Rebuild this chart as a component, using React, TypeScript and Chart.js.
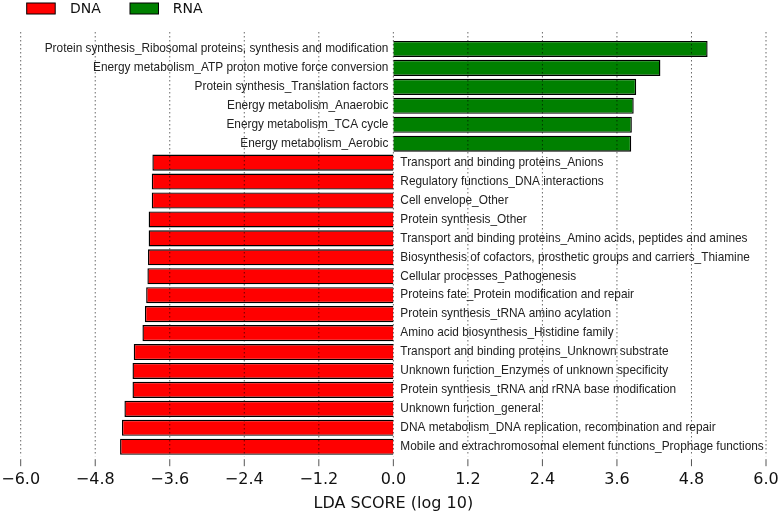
import React, { useEffect, useRef } from 'react';
import { Chart, registerables } from 'chart.js';

Chart.register(...registerables);

const categories: string[] = [
  'Protein synthesis_Ribosomal proteins, synthesis and modification',
  'Energy metabolism_ATP proton motive force conversion',
  'Protein synthesis_Translation factors',
  'Energy metabolism_Anaerobic',
  'Energy metabolism_TCA cycle',
  'Energy metabolism_Aerobic',
  'Transport and binding proteins_Anions',
  'Regulatory functions_DNA interactions',
  'Cell envelope_Other',
  'Protein synthesis_Other',
  'Transport and binding proteins_Amino acids, peptides and amines',
  'Biosynthesis of cofactors, prosthetic groups and carriers_Thiamine',
  'Cellular processes_Pathogenesis',
  'Proteins fate_Protein modification and repair',
  'Protein synthesis_tRNA amino acylation',
  'Amino acid biosynthesis_Histidine family',
  'Transport and binding proteins_Unknown substrate',
  'Unknown function_Enzymes of unknown specificity',
  'Protein synthesis_tRNA and rRNA base modification',
  'Unknown function_general',
  'DNA metabolism_DNA replication, recombination and repair',
  'Mobile and extrachromosomal element functions_Prophage functions',
];

const rnaScores: (number | null)[] = [
  5.06, 4.30, 3.91, 3.87, 3.84, 3.83,
  null, null, null, null, null, null, null, null, null, null, null, null, null, null, null, null,
];

const dnaScores: (number | null)[] = [
  null, null, null, null, null, null,
  -3.88, -3.89, -3.89, -3.94, -3.94, -3.95, -3.96, -3.98, -4.0, -4.04,
  -4.18, -4.2, -4.2, -4.33, -4.37, -4.4,
];

const xTicks: number[] = [-6, -4.8, -3.6, -2.4, -1.2, 0, 1.2, 2.4, 3.6, 4.8, 6];

const groupNames = ['DNA', 'RNA'];
const groupColors = ['#ff0000', '#008000'];

const fmt = (v: number) => {
  const s = Math.abs(v).toFixed(1);
  return (v < -1e-9 ? '\u2212' : '') + s;
};

const overlayPlugin = {
  id: 'ldaOverlay',
  afterDatasetsDraw(chart: any) {
    const { ctx, chartArea } = chart;
    const x = chart.scales.x;
    const y = chart.scales.y;
    ctx.save();
    // dotted grid lines on top of bars
    ctx.strokeStyle = 'rgba(0,0,0,0.75)';
    ctx.lineWidth = 0.8;
    ctx.setLineDash([1.5, 2.5]);
    xTicks.forEach((v) => {
      const px = x.getPixelForValue(v);
      ctx.beginPath();
      ctx.moveTo(px, chartArea.top - 7.5);
      ctx.lineTo(px, chartArea.bottom);
      ctx.stroke();
    });
    // tick marks
    ctx.setLineDash([]);
    ctx.strokeStyle = '#555';
    ctx.lineWidth = 1;
    xTicks.forEach((v) => {
      const px = x.getPixelForValue(v);
      ctx.beginPath();
      ctx.moveTo(px, chartArea.bottom + 3);
      ctx.lineTo(px, chartArea.bottom + 10);
      ctx.stroke();
    });
    // category labels next to zero
    const x0 = x.getPixelForValue(0);
    ctx.font = '11.85px "Liberation Sans", Arial, sans-serif';
    ctx.fillStyle = '#222';
    ctx.textBaseline = 'middle';
    categories.forEach((c, i) => {
      const py = y.getPixelForValue(i);
      const v = rnaScores[i] != null ? (rnaScores[i] as number) : (dnaScores[i] as number);
      if (v >= 0) {
        ctx.textAlign = 'right';
        ctx.fillText(c, x0 - 5, py);
      } else {
        ctx.textAlign = 'left';
        ctx.fillText(c, x0 + 7, py);
      }
    });
    // legend
    const legendItems = [
      { bx: 26.7, tx: 70 },
      { bx: 130, tx: 172.7 },
    ];
    ctx.font = '14px "DejaVu Sans", sans-serif';
    ctx.textAlign = 'left';
    ctx.textBaseline = 'middle';
    legendItems.forEach((it, k) => {
      ctx.fillStyle = groupColors[k];
      ctx.fillRect(it.bx, 3, 28.5, 11);
      ctx.strokeStyle = '#000';
      ctx.lineWidth = 1;
      ctx.strokeRect(it.bx, 3, 28.5, 11);
      ctx.fillStyle = '#111';
      ctx.fillText(groupNames[k], it.tx, 9);
    });
    ctx.restore();
  },
};

export default function App() {
  const ref = useRef<HTMLCanvasElement | null>(null);
  useEffect(() => {
    if (!ref.current) return;
    const chart = new Chart(ref.current, {
      type: 'bar',
      data: {
        labels: categories,
        datasets: [
          {
            label: groupNames[0],
            data: dnaScores as any,
            backgroundColor: groupColors[0],
            borderColor: '#000',
            borderWidth: 1.4,
            barPercentage: 0.85,
            categoryPercentage: 1,
            grouped: false,
          },
          {
            label: groupNames[1],
            data: rnaScores as any,
            backgroundColor: groupColors[1],
            borderColor: '#000',
            borderWidth: 1.4,
            barPercentage: 0.85,
            categoryPercentage: 1,
            grouped: false,
          },
        ],
      },
      options: {
        indexAxis: 'y',
        animation: false,
        responsive: true,
        maintainAspectRatio: false,
        layout: { padding: { left: 20.7, right: 14, top: 39.5, bottom: 2.4 } },
        plugins: { legend: { display: false }, tooltip: { enabled: false } },
        scales: {
          x: {
            type: 'linear',
            min: -6,
            max: 6,
            afterBuildTicks: (scale: any) => {
              scale.ticks = xTicks.map((v) => ({ value: v }));
            },
            afterFit: (scale: any) => {
              scale.paddingLeft = 0;
              scale.paddingRight = 0;
            },
            grid: { display: false, drawTicks: false, tickLength: 0 },
            border: { display: false },
            ticks: {
              padding: 14,
              color: '#111',
              font: { family: '"DejaVu Sans", sans-serif', size: 16 },
              callback: (v: any) => fmt(Number(v)),
              maxRotation: 0,
              autoSkip: false,
            },
            title: {
              display: true,
              text: 'LDA SCORE (log 10)',
              color: '#111',
              font: { family: '"DejaVu Sans", sans-serif', size: 16 },
              padding: { top: -9, bottom: -2 },
            },
          },
          y: {
            type: 'category',
            display: false,
            offset: true,
          },
        },
      },
      plugins: [overlayPlugin],
    });
    return () => chart.destroy();
  }, []);
  return (
    <div style={{ position: 'absolute', left: 0, top: 0, width: 780, height: 514 }}>
      <canvas ref={ref} />
    </div>
  );
}
